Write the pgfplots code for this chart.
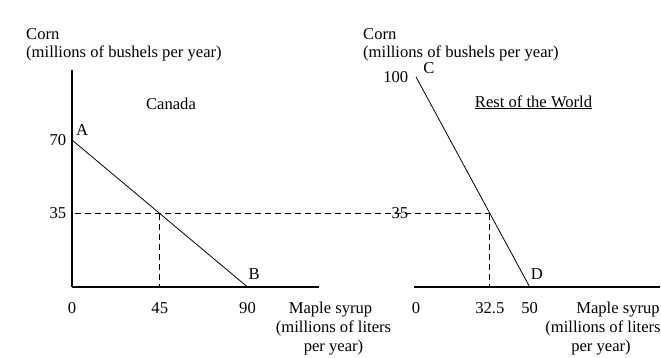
\documentclass[border=0pt]{standalone}
\usepackage{fontspec}
\setmainfont{Liberation Serif}
\usepackage{pgfplots}
\pgfplotsset{compat=1.18}
\begin{document}
\fontsize{16.6}{20}\selectfont
\begin{tikzpicture}[font=\fontsize{16.6}{20}\selectfont]
\path[use as bounding box] (0,0) rectangle (661pt,357pt);
\pgfplotsset{
  ppfaxis/.style={
    axis lines=left,
    axis line style={-, line width=1.1pt},
    x axis line style={-}, y axis line style={-},
    clip=false,
    anchor=south west,
    major tick length=0pt,
    tick style={draw=none},
    /pgf/number format/assume math mode=true,
    tick label style={font=\fontsize{16.6}{20}\selectfont},
    xticklabel style={anchor=base, yshift=-26pt},
    yticklabel style={anchor=east},
  },
  ppf/.style={black, line width=0.8pt, mark=none},
  guide/.style={black, line width=0.9pt, dash pattern=on 6pt off 4pt, mark=none},
}
% Canada
\begin{axis}[ppfaxis,
  at={(72pt,70pt)},
  x=1.95pt, y=2.1pt,
  xmin=0, xmax=126.7, ymin=0, ymax=103.3,
  xtick={0,45,90}, xticklabels={0,45,90},
  ytick={35,70}, yticklabels={35,70},
]
\addplot[ppf] coordinates {(0,70) (90,0)};
\addplot[guide] coordinates {(45,35) (45,0)};
\node[anchor=base west, inner sep=0] at ([shift={(4pt,5pt)}]axis cs:0,70) {A};
\node[anchor=base west, inner sep=0] at ([shift={(1pt,8pt)}]axis cs:90,0) {B};
\end{axis}
% Rest of the World
\begin{axis}[ppfaxis,
  at={(414pt,70pt)},
  x=2.273pt, y=2.1pt,
  xmin=-0.9, xmax=107.5, ymin=0, ymax=103.3,
  y axis line style={draw=none},
  xtick={0,32.5,50}, xticklabels={0,32.5,50},
  ytick={35,100}, yticklabels={35,100},
]
\addplot[ppf] coordinates {(0,100) (50,0)};
\addplot[guide] coordinates {(32.5,35) (32.5,0)};
\addplot[guide] coordinates {(-150,35) (32.5,35)};
\node[anchor=base west, inner sep=0] at ([shift={(7pt,3pt)}]axis cs:0,100) {C};
\node[anchor=base west, inner sep=0] at ([shift={(1pt,8pt)}]axis cs:50,0) {D};
\end{axis}
% texts
\node[anchor=base west, inner sep=0] at (26pt,317pt) {Corn};
\node[anchor=base west, inner sep=0] at (26pt,299pt) {(millions of bushels per year)};
\node[anchor=base west, inner sep=0] at (363pt,317pt) {Corn};
\node[anchor=base west, inner sep=0] at (363pt,299pt) {(millions of bushels per year)};
\node[anchor=base, inner sep=0] at (171pt,248pt) {Canada};
\node[anchor=base, inner sep=0] at (533.5pt,250pt) {\underline{Rest of the World}};
\node[anchor=base, inner sep=0] at (330.5pt,44pt) {Maple syrup};
\node[anchor=base, inner sep=0] at (333.5pt,25pt) {(millions of liters};
\node[anchor=base, inner sep=0] at (333.5pt,6pt) {per year)};
\node[anchor=base, inner sep=0] at (618pt,44pt) {Maple syrup};
\node[anchor=base, inner sep=0] at (603pt,25pt) {(millions of liters};
\node[anchor=base, inner sep=0] at (601pt,6pt) {per year)};
\end{tikzpicture}
\end{document}
